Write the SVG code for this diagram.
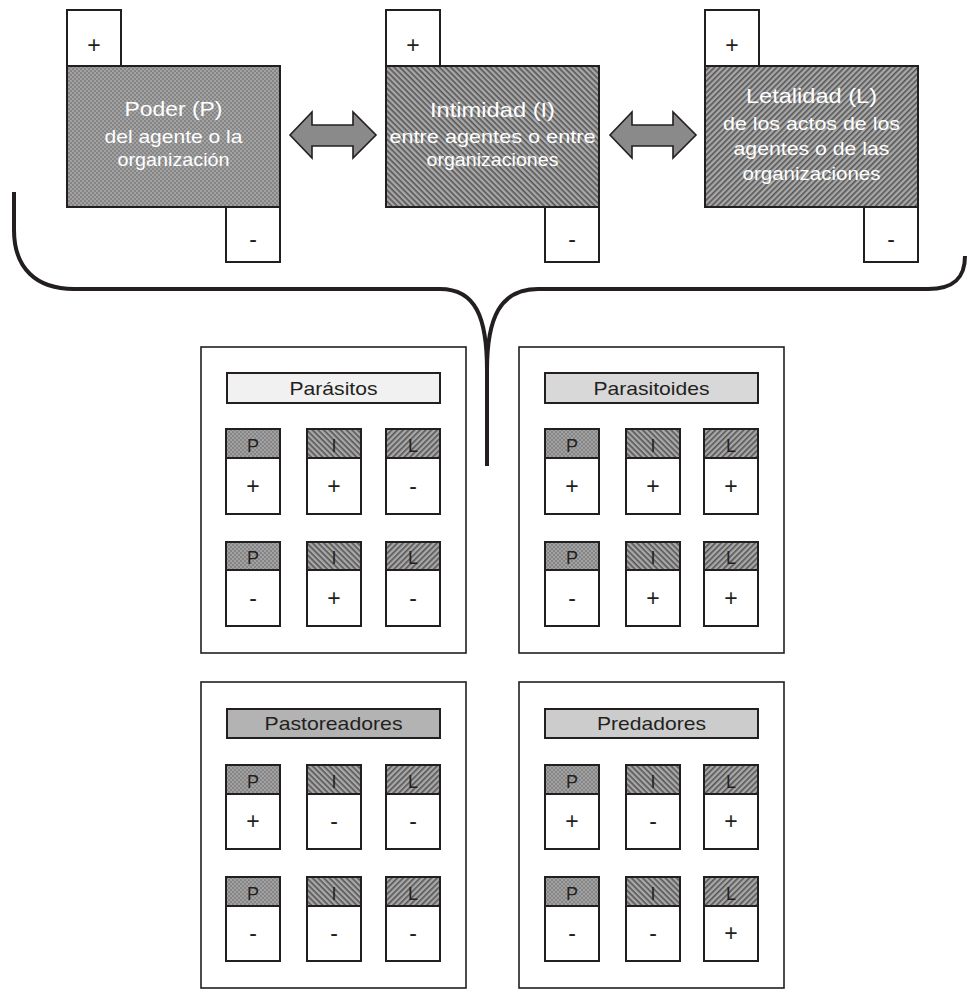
<svg xmlns="http://www.w3.org/2000/svg" xmlns:xlink="http://www.w3.org/1999/xlink" width="967" height="990" viewBox="0 0 967 990">
<defs>
<pattern id="dots" width="4" height="4" patternUnits="userSpaceOnUse">
<rect width="4" height="4" fill="#a2a2a2"/>
<circle cx="1" cy="1" r="0.75" fill="#595959"/>
<circle cx="3" cy="3" r="0.75" fill="#595959"/>
</pattern>
<pattern id="hatchI" width="4" height="4" patternUnits="userSpaceOnUse" patternTransform="rotate(45)">
<rect width="4" height="4" fill="#a8a8a8"/>
<rect width="4" height="1.6" fill="#555"/>
</pattern>
<pattern id="hatchL" width="4" height="4" patternUnits="userSpaceOnUse" patternTransform="rotate(-45)">
<rect width="4" height="4" fill="#a8a8a8"/>
<rect width="4" height="1.6" fill="#555"/>
</pattern>
<style>
.frame{fill:#fff;stroke:#231f20;stroke-width:1.6}
.box{stroke:#231f20;stroke-width:2}
.white{fill:#fff;stroke:#231f20;stroke-width:2}
.cell{fill:#fff;stroke:#231f20;stroke-width:2}
.P{fill:url(#dots)}
.I{fill:url(#hatchI)}
.L{fill:url(#hatchL)}
.main{font-family:"Liberation Sans",Arial,sans-serif;fill:#fff;text-anchor:middle}
.t1{font-size:21px}
.t2{font-size:19px}
.sign{font-family:"Liberation Sans",Arial,sans-serif;font-size:23px;fill:#231f20;text-anchor:middle}
.hl{font-family:"Liberation Sans",Arial,sans-serif;font-size:18px;fill:#231f20;text-anchor:middle}
.title{font-family:"Liberation Sans",Arial,sans-serif;font-size:19px;fill:#231f20;text-anchor:middle}
.arrow{fill:#8a8a8a;stroke:#231f20;stroke-width:1.6;stroke-linejoin:miter}
.brace{fill:none;stroke:#231f20;stroke-width:4;stroke-linecap:butt}
</style>
</defs>
<rect width="967" height="990" fill="#fff"/>

<g id="connectors">
<polygon class="arrow" points="290,135 312,112 312,125 353,125 353,112 376,135 353,158 353,146 312,146 312,158"/>
<polygon class="arrow" points="610,135 632,112 632,125 673,125 673,112 696,135 673,158 673,146 632,146 632,158"/>
<path class="brace" d="M14,192 L14,230 C14,268 36,289 74,289 L440,289 C476,289 487,318 487,370 L487,466"/>
<path class="brace" d="M487,370 C487,318 500,289 538,289 L928,289 C954,289 965,278 965,256"/>
</g>

<g id="poder">
<rect class="white" x="67" y="10" width="54" height="56"/>
<text class="sign" x="94" y="53">+</text>
<rect class="box P" x="67" y="66" width="213" height="141"/>
<rect class="white" x="226" y="207" width="54" height="55"/>
<text class="sign" x="253" y="247">-</text>
<text class="main t1" x="173.5" y="116" textLength="98" lengthAdjust="spacingAndGlyphs">Poder (P)</text>
<text class="main t2" x="173.5" y="143" textLength="138" lengthAdjust="spacingAndGlyphs">del agente o la</text>
<text class="main t2" x="173.5" y="166" textLength="112" lengthAdjust="spacingAndGlyphs">organización</text>
</g>

<g id="intimidad">
<rect class="white" x="386" y="10" width="54" height="56"/>
<text class="sign" x="413" y="53">+</text>
<rect class="box I" x="386" y="66" width="213" height="141"/>
<rect class="white" x="545" y="207" width="54" height="55"/>
<text class="sign" x="572" y="247">-</text>
<text class="main t1" x="492.5" y="117" textLength="125" lengthAdjust="spacingAndGlyphs">Intimidad (I)</text>
<text class="main t2" x="492.5" y="143" textLength="206" lengthAdjust="spacingAndGlyphs">entre agentes o entre</text>
<text class="main t2" x="492.5" y="166" textLength="132" lengthAdjust="spacingAndGlyphs">organizaciones</text>
</g>

<g id="letalidad">
<rect class="white" x="705" y="10" width="54" height="56"/>
<text class="sign" x="732" y="53">+</text>
<rect class="box L" x="705" y="66" width="213" height="141"/>
<rect class="white" x="864" y="207" width="54" height="55"/>
<text class="sign" x="891" y="247">-</text>
<text class="main t1" x="811.5" y="103" textLength="131" lengthAdjust="spacingAndGlyphs">Letalidad (L)</text>
<text class="main t2" x="811.5" y="130" textLength="177" lengthAdjust="spacingAndGlyphs">de los actos de los</text>
<text class="main t2" x="811.5" y="155" textLength="156" lengthAdjust="spacingAndGlyphs">agentes o de las</text>
<text class="main t2" x="811.5" y="180" textLength="138" lengthAdjust="spacingAndGlyphs">organizaciones</text>
</g>

<g id="parasitos" transform="translate(201,347)">
<rect class="frame" x="0" y="0" width="265" height="306"/>
<rect class="box" x="26" y="26" width="213" height="30" fill="#f1f1f1"/>
<text class="title" x="132.5" y="48" textLength="88" lengthAdjust="spacingAndGlyphs">Parásitos</text>
<g transform="translate(25,82)"><rect class="box P" width="54" height="29"/><rect class="cell" y="29" width="54" height="56"/><text class="hl" x="27" y="23">P</text><text class="sign" x="27" y="65">+</text></g>
<g transform="translate(106,82)"><rect class="box I" width="54" height="29"/><rect class="cell" y="29" width="54" height="56"/><text class="hl" x="27" y="23">I</text><text class="sign" x="27" y="65">+</text></g>
<g transform="translate(185,82)"><rect class="box L" width="54" height="29"/><rect class="cell" y="29" width="54" height="56"/><text class="hl" x="27" y="23">L</text><text class="sign" x="27" y="65">-</text></g>
<g transform="translate(25,195)"><rect class="box P" width="54" height="28"/><rect class="cell" y="28" width="54" height="56"/><text class="hl" x="27" y="22">P</text><text class="sign" x="27" y="64">-</text></g>
<g transform="translate(106,195)"><rect class="box I" width="54" height="28"/><rect class="cell" y="28" width="54" height="56"/><text class="hl" x="27" y="22">I</text><text class="sign" x="27" y="64">+</text></g>
<g transform="translate(185,195)"><rect class="box L" width="54" height="28"/><rect class="cell" y="28" width="54" height="56"/><text class="hl" x="27" y="22">L</text><text class="sign" x="27" y="64">-</text></g>
</g>

<g id="parasitoides" transform="translate(519,347)">
<rect class="frame" x="0" y="0" width="265" height="306"/>
<rect class="box" x="26" y="26" width="213" height="30" fill="#d8d8d8"/>
<text class="title" x="132.5" y="48" textLength="116" lengthAdjust="spacingAndGlyphs">Parasitoides</text>
<g transform="translate(26,82)"><rect class="box P" width="54" height="29"/><rect class="cell" y="29" width="54" height="56"/><text class="hl" x="27" y="23">P</text><text class="sign" x="27" y="65">+</text></g>
<g transform="translate(107,82)"><rect class="box I" width="54" height="29"/><rect class="cell" y="29" width="54" height="56"/><text class="hl" x="27" y="23">I</text><text class="sign" x="27" y="65">+</text></g>
<g transform="translate(185,82)"><rect class="box L" width="54" height="29"/><rect class="cell" y="29" width="54" height="56"/><text class="hl" x="27" y="23">L</text><text class="sign" x="27" y="65">+</text></g>
<g transform="translate(26,195)"><rect class="box P" width="54" height="28"/><rect class="cell" y="28" width="54" height="56"/><text class="hl" x="27" y="22">P</text><text class="sign" x="27" y="64">-</text></g>
<g transform="translate(107,195)"><rect class="box I" width="54" height="28"/><rect class="cell" y="28" width="54" height="56"/><text class="hl" x="27" y="22">I</text><text class="sign" x="27" y="64">+</text></g>
<g transform="translate(185,195)"><rect class="box L" width="54" height="28"/><rect class="cell" y="28" width="54" height="56"/><text class="hl" x="27" y="22">L</text><text class="sign" x="27" y="64">+</text></g>
</g>

<g id="pastoreadores" transform="translate(201,682)">
<rect class="frame" x="0" y="0" width="265" height="306"/>
<rect class="box" x="26" y="27" width="213" height="29" fill="#b3b3b3"/>
<text class="title" x="132.5" y="48" textLength="138" lengthAdjust="spacingAndGlyphs">Pastoreadores</text>
<g transform="translate(25,83)"><rect class="box P" width="54" height="29"/><rect class="cell" y="29" width="54" height="55"/><text class="hl" x="27" y="23">P</text><text class="sign" x="27" y="64">+</text></g>
<g transform="translate(106,83)"><rect class="box I" width="54" height="29"/><rect class="cell" y="29" width="54" height="55"/><text class="hl" x="27" y="23">I</text><text class="sign" x="27" y="64">-</text></g>
<g transform="translate(185,83)"><rect class="box L" width="54" height="29"/><rect class="cell" y="29" width="54" height="55"/><text class="hl" x="27" y="23">L</text><text class="sign" x="27" y="64">-</text></g>
<g transform="translate(25,195)"><rect class="box P" width="54" height="29"/><rect class="cell" y="29" width="54" height="55"/><text class="hl" x="27" y="23">P</text><text class="sign" x="27" y="64">-</text></g>
<g transform="translate(106,195)"><rect class="box I" width="54" height="29"/><rect class="cell" y="29" width="54" height="55"/><text class="hl" x="27" y="23">I</text><text class="sign" x="27" y="64">-</text></g>
<g transform="translate(185,195)"><rect class="box L" width="54" height="29"/><rect class="cell" y="29" width="54" height="55"/><text class="hl" x="27" y="23">L</text><text class="sign" x="27" y="64">-</text></g>
</g>

<g id="predadores" transform="translate(519,682)">
<rect class="frame" x="0" y="0" width="265" height="306"/>
<rect class="box" x="26" y="27" width="213" height="29" fill="#cccccc"/>
<text class="title" x="132.5" y="48" textLength="109" lengthAdjust="spacingAndGlyphs">Predadores</text>
<g transform="translate(26,83)"><rect class="box P" width="54" height="29"/><rect class="cell" y="29" width="54" height="55"/><text class="hl" x="27" y="23">P</text><text class="sign" x="27" y="64">+</text></g>
<g transform="translate(107,83)"><rect class="box I" width="54" height="29"/><rect class="cell" y="29" width="54" height="55"/><text class="hl" x="27" y="23">I</text><text class="sign" x="27" y="64">-</text></g>
<g transform="translate(185,83)"><rect class="box L" width="54" height="29"/><rect class="cell" y="29" width="54" height="55"/><text class="hl" x="27" y="23">L</text><text class="sign" x="27" y="64">+</text></g>
<g transform="translate(26,195)"><rect class="box P" width="54" height="29"/><rect class="cell" y="29" width="54" height="55"/><text class="hl" x="27" y="23">P</text><text class="sign" x="27" y="64">-</text></g>
<g transform="translate(107,195)"><rect class="box I" width="54" height="29"/><rect class="cell" y="29" width="54" height="55"/><text class="hl" x="27" y="23">I</text><text class="sign" x="27" y="64">-</text></g>
<g transform="translate(185,195)"><rect class="box L" width="54" height="29"/><rect class="cell" y="29" width="54" height="55"/><text class="hl" x="27" y="23">L</text><text class="sign" x="27" y="64">+</text></g>
</g>
</svg>
